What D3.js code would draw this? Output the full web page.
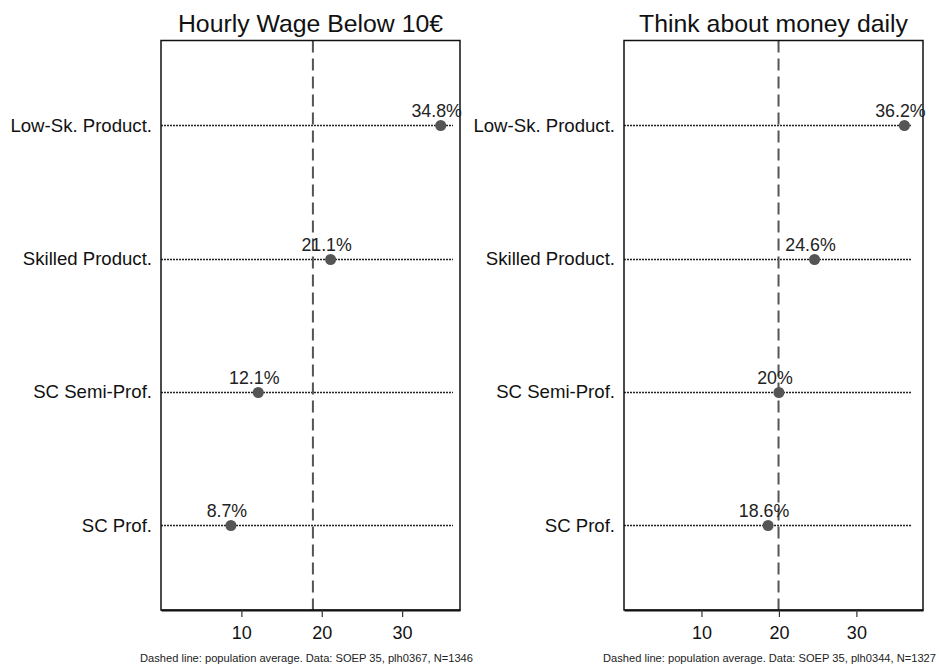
<!DOCTYPE html>
<html>
<head>
<meta charset="utf-8">
<script src="https://cdn.jsdelivr.net/npm/d3@7"></script>
<style>
body{margin:0;background:#fff;}
text{font-family:"Liberation Sans",Arial,sans-serif;}
</style>
</head>
<body>
<svg></svg>
<script>
// categories, top to bottom
var categories = ['Low-Sk. Product.','Skilled Product.','SC Semi-Prof.','SC Prof.'];

var wageValues  = [34.8, 21.1, 12.1, 8.7];
var moneyValues = [36.2, 24.6, 20, 18.6];

var wageAvg  = 18.9;
var moneyAvg = 19.95;

var tickValues = [10, 20, 30];

var titles = ['Hourly Wage Below 10€', 'Think about money daily'];
var notes  = ['Dashed line: population average. Data: SOEP 35, plh0367, N=1346',
              'Dashed line: population average. Data: SOEP 35, plh0344, N=1327'];

var svgwidth = 939, svgheight = 668;
var svg = d3.select('svg').attr('width',svgwidth).attr('height',svgheight);

var panels = [
	{values:wageValues,  avg:wageAvg,  title:titles[0], note:notes[0], left:161, right:460, xmax:37.2, lineEnd:36.3},
	{values:moneyValues, avg:moneyAvg, title:titles[1], note:notes[1], left:624, right:923, xmax:38.6, lineEnd:37.2}
];

var plotTop = 40.5, plotBottom = 610;

var y = d3.scalePoint().domain(categories).range([plotTop,plotBottom]).padding(0.635);
// snap to pixel centre so the dotted lines stay crisp
var yc = function(d){ return Math.round(y(d)) + 0.5; };

panels.forEach(function(p){
	var x = d3.scaleLinear().domain([0,p.xmax]).range([p.left,p.right]);
	var g = svg.append('g');

	// dotted guide lines
	g.selectAll('.guide').data(categories).enter().append('line')
		.attr('x1',Math.round(x(0))).attr('x2',Math.round(x(p.lineEnd)))
		.attr('y1',yc).attr('y2',yc)
		.attr('stroke','#222').attr('stroke-width',1.3).attr('stroke-dasharray','2,1');

	// population average
	g.append('line')
		.attr('x1',x(p.avg)).attr('x2',x(p.avg))
		.attr('y1',plotTop).attr('y2',plotBottom)
		.attr('stroke','#555').attr('stroke-width',2).attr('stroke-dasharray','12,6');

	// box
	g.append('rect')
		.attr('x',p.left).attr('y',plotTop)
		.attr('width',p.right-p.left).attr('height',plotBottom-plotTop)
		.attr('fill','none').attr('stroke','#111').attr('stroke-width',1.5);

	// x axis
	var ax = g.append('g').attr('transform','translate(0,'+plotBottom+')')
		.call(d3.axisBottom(x).tickValues(tickValues).tickSize(7).tickSizeOuter(0).tickPadding(9));
	ax.select('.domain').attr('stroke','#111').attr('stroke-width',2);
	ax.selectAll('.tick line').attr('stroke','#333').attr('stroke-width',1.2);
	ax.selectAll('.tick text').attr('font-size',18).attr('fill','#111')
		.style('font-family','"Liberation Sans",Arial,sans-serif');

	// category labels
	g.selectAll('.cat').data(categories).enter().append('text')
		.attr('x',p.left-9).attr('y',function(d){return y(d);})
		.attr('dy','0.35em').attr('text-anchor','end')
		.attr('font-size',18.6).attr('fill','#111')
		.text(function(d){return d;});

	// points
	g.selectAll('.pt').data(p.values).enter().append('circle')
		.attr('cx',function(d){return x(d);})
		.attr('cy',function(d,i){return yc(categories[i]);})
		.attr('r',5.5).attr('fill','#555');

	// value labels
	g.selectAll('.val').data(p.values).enter().append('text')
		.attr('x',function(d){return x(d)-4;})
		.attr('y',function(d,i){return y(categories[i])-8;})
		.attr('text-anchor','middle').attr('font-size',17.8).attr('fill','#222')
		.text(function(d){return d+'%';});

	// title
	g.append('text')
		.attr('x',(p.left+p.right)/2).attr('y',32)
		.attr('text-anchor','middle').attr('font-size',24.8).attr('fill','#111')
		.text(p.title);

	// footnote
	g.append('text')
		.attr('x',(p.left+p.right)/2 - 4).attr('y',662)
		.attr('text-anchor','middle').attr('font-size',10.5).attr('fill','#222')
		.attr('textLength',333).attr('lengthAdjust','spacingAndGlyphs')
		.text(p.note);
});
</script>
</body>
</html>
